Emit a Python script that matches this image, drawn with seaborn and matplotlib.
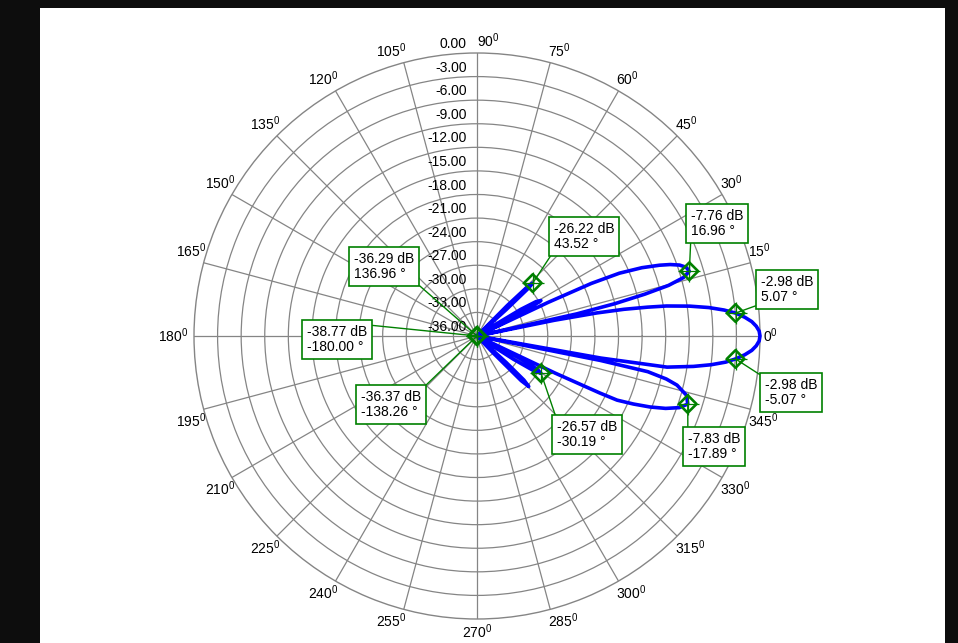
import numpy as np
import matplotlib
matplotlib.use("Agg")
import matplotlib.pyplot as plt
import seaborn as sns
from matplotlib.patches import Rectangle

# ---------------- data ----------------
angle_deg = [
    -180.0, -170.0, -160.0, -150.0, -138.26, -130.0, -120.0, -110.0, -100.0, -90.0,
    -80.0, -70.0, -60.0, -50.0, -47.0, -46.3, -45.3, -44.3, -43.2, -42.2, -41.3,
    -38.0, -34.5, -33.5, -32.5, -31.5, -30.19, -28.8, -27.5, -26.5, -26.0,
    -25.4, -24.9, -24.6, -23.5, -22.3, -21.0, -19.5, -17.89, -15.8, -13.8, -12.8,
    -11.8, -11.2, -10.8, -10.1, -9.3, -8.0, -7.0, -6.0, -5.07, -4.0, -3.0, -2.0,
    -1.0, 0.0,
    1.0, 2.0, 3.0, 4.0, 5.07, 6.0, 7.0, 8.0, 9.0, 9.6, 10.3, 10.9, 11.5, 12.0,
    12.5, 13.2, 14.0, 14.8, 15.8, 16.96, 18.2, 19.3, 20.3, 21.2, 22.5, 23.8, 24.7,
    25.3, 26.0, 26.8, 27.8, 29.0, 30.2, 31.3, 32.3, 33.0, 37.0, 41.2, 42.1, 42.9,
    43.52, 44.3, 45.2, 46.2, 50.0, 60.0, 70.0, 80.0, 90.0, 100.0, 110.0, 120.0,
    130.0, 136.96, 145.0, 160.0, 170.0, 180.0,
]
gain_db = [
    -38.77, -40.5, -44.0, -41.0, -36.37, -43.0, -39.5, -44.0, -42.0, -46.0,
    -40.0, -45.0, -39.0, -42.0, -45.0, -33.0, -28.0, -26.8, -27.8, -31.0, -45.0,
    -40.0, -45.0, -36.0, -30.5, -27.6, -26.57, -27.4, -30.0, -35.0, -45.0,
    -25.0, -18.8, -16.4, -14.3, -12.2, -10.3, -8.7, -7.83, -8.3, -9.8, -11.3,
    -13.8, -20.0, -45.0, -20.0, -11.5, -8.2, -6.0, -4.2, -2.98, -1.85, -1.0, -0.45,
    -0.1, 0.0,
    -0.1, -0.45, -1.0, -1.85, -2.98, -4.4, -6.3, -8.7, -11.6, -14.0, -17.0, -20.5,
    -26.0, -45.0,
    -23.0, -18.0, -14.0, -10.8, -8.7, -7.76, -8.0, -8.7, -9.8, -11.1, -13.3, -16.2,
    -20.0, -26.0, -45.0, -33.0, -28.5, -26.7, -27.3, -29.5, -34.0, -45.0, -40.0,
    -45.0, -31.0, -27.0, -26.22, -27.0, -30.5, -45.0, -41.0, -38.5, -44.0, -40.0,
    -47.0, -41.0, -45.0, -39.0, -44.0, -36.29, -43.0, -40.0, -45.0, -38.77,
]

marker_angle_deg = [43.52, 16.96, 5.07, -5.07, -17.89, -30.19, 136.96, -180.00, -138.26]
marker_db = [-26.22, -7.76, -2.98, -2.98, -7.83, -26.57, -36.29, -38.77, -36.37]

radial_ticks = [0, -3, -6, -9, -12, -15, -18, -21, -24, -27, -30, -33, -36]
theta_ticks = list(range(0, 360, 15))

# ---------------- layout (pixels in the 958x643 image) ----------------
W, H = 958, 643
CX, CY, R = 477, 336, 283
box_topleft = [(549, 217), (686, 204), (756, 270), (760, 373), (683, 427),
               (552, 415), (349, 247), (302, 320), (356, 385)]
box_relpos = [(0, 0), (0, 0), (0, 0), (0, 1), (0, 1), (0, 1), (1, 0), (1, 1), (1, 1)]

GRID = "#858585"
GREEN = "#008000"
BLUE = "#0000ff"
FS = 10

sns.set_style("white")
plt.rcParams["font.family"] = ["Liberation Sans", "DejaVu Sans"]
plt.rcParams["mathtext.fontset"] = "custom"
plt.rcParams["mathtext.rm"] = "Liberation Sans"
plt.rcParams["mathtext.it"] = "Liberation Sans:italic"

fig = plt.figure(figsize=(W / 100, H / 100), dpi=100, facecolor="#0d0d0d")
fig.add_artist(Rectangle((40 / W, 0), 905 / W, 635 / H, transform=fig.transFigure,
                         facecolor="white", edgecolor="none", zorder=0))

ax = fig.add_axes([(CX - R) / W, (H - CY - R) / H, 2 * R / W, 2 * R / H],
                  projection="polar")
ax.set_facecolor("none")

theta = np.deg2rad(angle_deg)
r_plot = np.clip(np.array(gain_db), -36, 0)
sns.lineplot(x=theta, y=r_plot, ax=ax, sort=False, estimator=None,
             color=BLUE, linewidth=2.6, zorder=3)
for ln in ax.lines:
    ln.set_clip_on(False)

m_theta = np.deg2rad(marker_angle_deg)
m_r = np.clip(np.array(marker_db), -36, 0)
sns.scatterplot(x=m_theta, y=m_r, ax=ax, marker="+", s=260, color=GREEN,
                linewidth=0.9, zorder=4, clip_on=False)
sns.scatterplot(x=m_theta, y=m_r, ax=ax, marker="D", s=80, facecolor="none",
                edgecolor=GREEN, linewidth=1.9, zorder=5, clip_on=False)

ax.set_ylim(-36, 0)
ax.set_xticks(np.deg2rad(theta_ticks))
ax.set_xticklabels([])
ax.set_yticks(radial_ticks[1:-1])
ax.set_yticklabels([])
ax.tick_params(length=0)
ax.grid(True, color=GRID, linewidth=0.9, linestyle="-")
ax.spines["polar"].set_color(GRID)
ax.spines["polar"].set_linewidth(1.0)
ax.set_xlabel("")
ax.set_ylabel("")

# radial labels along 90 degrees
for v in radial_ticks:
    ax.annotate(f"{v:.2f}", xy=(np.pi / 2, v), xytext=(-10, 9),
                textcoords="offset pixels", ha="right", va="center",
                fontsize=FS, color="black", annotation_clip=False, zorder=2)

# angle labels
for a in theta_ticks:
    c, s = np.cos(np.deg2rad(a)), np.sin(np.deg2rad(a))
    if a == 0:
        ha, va, off = "left", "center", (3, 0)
    elif a == 180:
        ha, va, off = "right", "center", (-6, 0)
    elif a == 90:
        ha, va, off = "left", "bottom", (0, 3)
    elif a == 270:
        ha, va, off = "center", "top", (0, -3)
    else:
        ha = "left" if c > 0 else "right"
        va = "bottom" if s > 0 else "top"
        off = (-2 if c > 0 else 3, 3 if s > 0 else -2)
    ax.annotate(f"{a}$^{{\\mathrm{{0}}}}$", xy=(np.deg2rad(a), 0), xytext=off,
                textcoords="offset pixels", ha=ha, va=va, fontsize=FS,
                color="black", annotation_clip=False)

# marker boxes
pad = 0.35
pad_px = pad * FS * 100 / 72
for a, d, (bx, by), rel in zip(marker_angle_deg, marker_db, box_topleft, box_relpos):
    ax.annotate(f"{d:.2f} dB\n{a:.2f} °",
                xy=(np.deg2rad(a), max(d, -36)),
                xytext=(bx + pad_px, H - by - pad_px), textcoords="figure pixels",
                ha="left", va="top", fontsize=FS, linespacing=1.1, color="black",
                bbox=dict(boxstyle=f"square,pad={pad}", fc="white", ec=GREEN, lw=1.2),
                arrowprops=dict(arrowstyle="-", color=GREEN, lw=1.0,
                                shrinkA=0, shrinkB=0, relpos=rel),
                annotation_clip=False, zorder=6)

fig.savefig("out.png", dpi=100, facecolor=fig.get_facecolor())
